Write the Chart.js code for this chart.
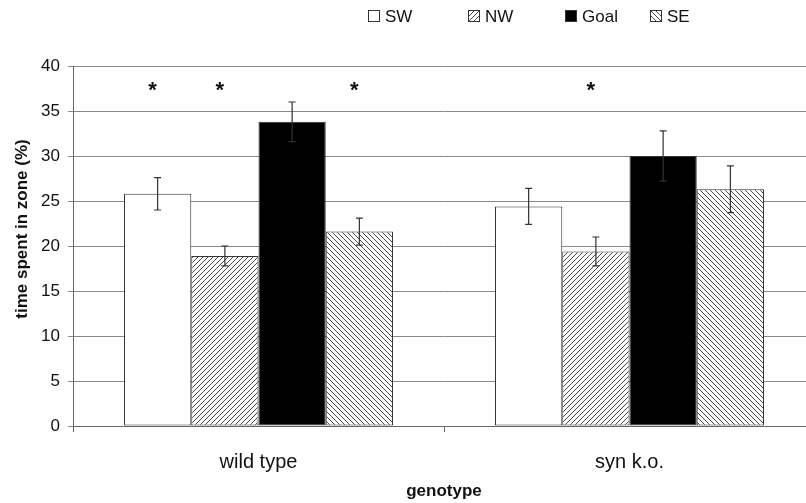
<!DOCTYPE html>
<html>
<head>
<meta charset="utf-8">
<script src="https://cdn.jsdelivr.net/npm/chart.js@4.4.0/dist/chart.umd.min.js"></script>
<style>
  body { margin: 0; background: #fff; overflow: hidden; }
</style>
</head>
<body>
<canvas id="chart" width="815" height="503"></canvas>
<script>
const categories = ["wild type", "syn k.o."];
const zones = ["SW", "NW", "Goal", "SE"];

// mean time spent in zone (%)
const swValues = [25.8, 24.4];
const nwValues = [18.9, 19.4];
const goalValues = [33.8, 30.0];
const seValues = [21.6, 26.3];

// error bar half-lengths
const swErrors = [1.8, 2.0];
const nwErrors = [1.1, 1.6];
const goalErrors = [2.2, 2.8];
const seErrors = [1.5, 2.6];

// 1 = asterisk above the bar
const swStars = [1, 0];
const nwStars = [1, 1];
const goalStars = [0, 0];
const seStars = [1, 0];
const starLevel = 37.7;

const yTicks = [0, 5, 10, 15, 20, 25, 30, 35, 40];

const FONT = 'Arial, "Liberation Sans", sans-serif';

function hatch(dir) {
  const c = document.createElement("canvas");
  c.width = c.height = 5;
  const g = c.getContext("2d");
  g.fillStyle = "#fff";
  g.fillRect(0, 0, 5, 5);
  g.strokeStyle = "#4a4a4a";
  g.lineWidth = 1;
  g.beginPath();
  if (dir > 0) {
    g.moveTo(-1, 6); g.lineTo(6, -1);
    g.moveTo(-1, 1); g.lineTo(1, -1);
    g.moveTo(4, 6); g.lineTo(6, 4);
  } else {
    g.moveTo(-1, -1); g.lineTo(6, 6);
    g.moveTo(-1, 4); g.lineTo(1, 6);
    g.moveTo(4, -1); g.lineTo(6, 1);
  }
  g.stroke();
  return g.createPattern(c, "repeat");
}

const fills = ["#ffffff", hatch(1), "#000000", hatch(-1)];
const values = [swValues, nwValues, goalValues, seValues];
const errors = [swErrors, nwErrors, goalErrors, seErrors];
const stars = [swStars, nwStars, goalStars, seStars];

const errorBars = {
  id: "errorBars",
  afterDatasetsDraw(chart) {
    const ctx = chart.ctx;
    const y = chart.scales.y;
    ctx.save();
    ctx.strokeStyle = "#333";
    ctx.lineWidth = 1.2;
    chart.data.datasets.forEach((ds, i) => {
      chart.getDatasetMeta(i).data.forEach((bar, j) => {
        const top = y.getPixelForValue(values[i][j] + errors[i][j]);
        const bot = y.getPixelForValue(values[i][j] - errors[i][j]);
        ctx.beginPath();
        ctx.moveTo(bar.x, top); ctx.lineTo(bar.x, bot);
        ctx.moveTo(bar.x - 3.5, top); ctx.lineTo(bar.x + 3.5, top);
        ctx.moveTo(bar.x - 3.5, bot); ctx.lineTo(bar.x + 3.5, bot);
        ctx.stroke();
        if (stars[i][j]) {
          ctx.fillStyle = "#111";
          ctx.font = "bold 22px " + FONT;
          ctx.textAlign = "center";
          ctx.textBaseline = "alphabetic";
          ctx.fillText("*", bar.x - 5, y.getPixelForValue(starLevel) + 10);
        }
      });
    });
    ctx.restore();
  }
};

const labelsAndLegend = {
  id: "labelsAndLegend",
  afterDraw(chart) {
    const ctx = chart.ctx;
    ctx.save();
    // legend across the top
    ctx.font = "17px " + FONT;
    const box = 12, gap = 5;
    const starts = [368, 468, 565, 650];
    const cy = 16;
    zones.forEach((z, i) => {
      const x = starts[i];
      ctx.fillStyle = fills[i];
      ctx.fillRect(x, cy - box / 2, box, box);
      ctx.strokeStyle = "#333";
      ctx.lineWidth = 1;
      ctx.strokeRect(x + 0.5, cy - box / 2 + 0.5, box - 1, box - 1);
      ctx.fillStyle = "#111";
      ctx.textBaseline = "middle";
      ctx.textAlign = "left";
      ctx.fillText(z, x + box + gap, cy + 1);
    });
    // y axis title
    ctx.translate(22, 229);
    ctx.rotate(-Math.PI / 2);
    ctx.font = "bold 17px " + FONT;
    ctx.textAlign = "center";
    ctx.textBaseline = "middle";
    ctx.fillStyle = "#111";
    ctx.fillText("time spent in zone (%)", 0, 0);
    ctx.restore();
  }
};

const datasets = zones.map((z, i) => ({
  label: z,
  data: values[i],
  backgroundColor: fills[i],
  borderColor: "#333",
  borderWidth: 1,
  borderSkipped: false,
  barPercentage: 1,
  categoryPercentage: 0.725
}));

new Chart(document.getElementById("chart"), {
  type: "bar",
  data: { labels: categories, datasets },
  plugins: [errorBars, labelsAndLegend],
  options: {
    responsive: false,
    animation: false,
    layout: { padding: { top: 66, left: 0, right: 0, bottom: 0 } },
    plugins: {
      legend: { display: false },
      tooltip: { enabled: false }
    },
    scales: {
      x: {
        offset: true,
        grid: { display: true, drawOnChartArea: false, tickLength: 6, color: "#666", offset: true },
        border: { color: "#666" },
        ticks: { color: "#111", font: { size: 20, family: FONT }, padding: 18 },
        title: { display: true, text: "genotype", color: "#111", font: { size: 17, weight: "bold", family: FONT }, padding: { top: 0, bottom: 1 } },
        afterFit(s) { s.height = 77; }
      },
      y: {
        min: 0,
        max: 40,
        afterBuildTicks(s) { s.ticks = yTicks.map(v => ({ value: v })); },
        grid: { color: "#8a8a8a", tickLength: 5 },
        border: { color: "#666" },
        ticks: { color: "#111", font: { size: 17, family: FONT }, padding: 8 },
        afterFit(s) { s.width = 73; }
      }
    }
  }
});
</script>
</body>
</html>
